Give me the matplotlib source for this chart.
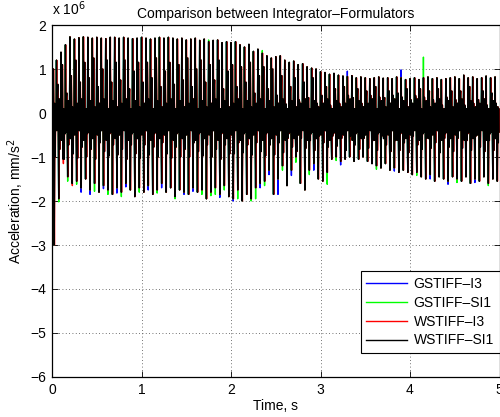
import numpy as np
import matplotlib
matplotlib.use("Agg")
import matplotlib.pyplot as plt
from matplotlib.lines import Line2D

plt.rcParams['font.family'] = ['Liberation Sans', 'DejaVu Sans']

# ---------------- data (units of 1e6 mm/s^2) ----------------
series_names = ["GSTIFF\u2013I3", "GSTIFF\u2013SI1", "WSTIFF\u2013I3", "WSTIFF\u2013SI1"]
series_colors = ["#0000ff", "#00ff00", "#ff0000", "#000000"]

cycle_period = 0.05  # s, one oscillation cycle

# upper peak of each cycle (100 cycles, 0 - 5 s)
upper_peaks = [
    1.36, 1.20, 1.38, 1.55, 1.73, 1.68, 1.71, 1.73, 1.72, 1.70,
    1.72, 1.70, 1.69, 1.72, 1.72, 1.70, 1.72, 1.70, 1.69, 1.70,
    1.72, 1.70, 1.68, 1.70, 1.72, 1.70, 1.72, 1.70, 1.68, 1.70,
    1.66, 1.68, 1.70, 1.65, 1.68, 1.62, 1.65, 1.66, 1.60, 1.62,
    1.60, 1.62, 1.55, 1.50, 1.56, 1.40, 1.45, 1.36, 1.30, 1.25,
    1.28, 1.30, 1.20, 1.15, 1.18, 1.10, 1.12, 1.05, 1.02, 1.00,
    0.94, 0.92, 0.88, 0.90, 0.86, 0.84, 0.83, 0.85, 0.80, 0.82,
    0.80, 0.78, 0.80, 0.82, 0.79, 0.80, 0.78, 0.82, 0.80, 0.76,
    0.78, 0.80, 0.76, 0.80, 0.82, 0.78, 0.80, 0.76, 0.78, 0.80,
    0.82, 0.78, 0.86, 0.80, 0.82, 0.78, 0.80, 0.84, 0.80, 0.82,
]

# lower peak of each cycle
lower_peaks = [
    -3.00, -1.95, -1.05, -1.45, -1.60, -1.55, -1.70, -1.50, -1.75, -1.60,
    -1.80, -1.65, -1.75, -1.85, -1.70, -1.80, -1.60, -1.75, -1.90, -1.70,
    -1.80, -1.65, -1.85, -1.75, -1.60, -1.80, -1.70, -1.90, -1.75, -1.80,
    -1.85, -1.70, -1.80, -1.75, -1.95, -1.80, -1.70, -1.85, -1.65, -1.90,
    -1.95, -1.75, -2.00, -1.85, -1.95, -1.70, -1.60, -1.55, -1.30, -1.85,
    -1.50, -1.20, -1.65, -1.30, -1.00, -1.60, -1.75, -1.30, -1.15, -1.50,
    -1.55, -1.35, -1.05, -1.00, -1.10, -1.05, -1.00, -1.10, -1.05, -1.00,
    -1.10, -1.15, -1.20, -1.25, -1.15, -1.30, -1.25, -1.35, -1.30, -1.35,
    -1.40, -1.35, -1.45, -1.50, -1.40, -1.55, -1.45, -1.50, -1.55, -1.45,
    -1.50, -1.55, -1.45, -1.60, -1.50, -1.55, -1.45, -1.60, -1.50, -1.55,
]

# secondary (smaller) spikes, one value per 0.25 s block
mid_upper_blocks = [1.00, 1.15, 1.15, 1.10, 1.15, 1.10, 1.15, 1.10, 1.05, 1.00,
                    0.75, 0.70, 0.55, 0.50, 0.50, 0.45, 0.50, 0.45, 0.50, 0.45]
mid_lower_blocks = [-1.00, -1.00, -0.95, -1.00, -0.95, -1.00, -0.95, -1.00, -0.90, -0.95,
                    -0.85, -0.80, -0.75, -0.80, -0.80, -0.85, -0.80, -0.85, -0.80, -0.85]
# cycle-to-cycle irregularity of the secondary spikes
mid_jitter = [0.0, -0.35, 0.10, -0.55, -0.15, 0.05, -0.45]

# ringing levels between the spikes within one cycle
ring_levels = [-0.50, 0.30, -0.40, 0.22, 0.18, -0.35]
# cycle-to-cycle irregularity of the ringing
ring_jitter = [0.0, 0.10, -0.12, 0.06, -0.08]

# where the other integrators differ from WSTIFF-SI1 (cycle index: value)
gstiff_i3_upper = {0: -5.50, 78: 0.98, 66: 0.95}
gstiff_i3_lower = {6: -1.80, 8: -1.85, 11: -1.72, 14: -1.82, 16: -1.68,
                   21: -1.75, 24: -1.70, 29: -1.85, 31: -1.78, 37: -1.92, 40: -2.0,
                   46: -1.70, 48: -1.40, 50: -1.85, 53: -1.42, 58: -1.30, 64: -1.18,
                   76: -1.32, 84: -1.50, 88: -1.62, 94: -1.58}
gstiff_si1_upper = {0: -5.45, 83: 1.27, 35: 1.66, 47: 1.42}
gstiff_si1_lower = {1: -2.02, 3: -1.55, 5: -1.62, 9: -1.78, 12: -1.85,
                    15: -1.90, 19: -1.80, 23: -1.82, 27: -1.95, 33: -1.85, 35: -1.88,
                    36: -1.85, 38: -1.75, 41: -1.95, 44: -2.00, 45: -1.95, 47: -1.65,
                    51: -1.30, 54: -1.12, 57: -1.40, 60: -1.55, 61: -1.62, 63: -1.08,
                    72: -1.28, 81: -1.42, 90: -1.58, 97: -1.65}
wstiff_i3_upper = {}
wstiff_i3_lower = {2: -1.15, 4: -1.65}
overrides = [(gstiff_i3_upper, gstiff_i3_lower),
             (gstiff_si1_upper, gstiff_si1_lower),
             (wstiff_i3_upper, wstiff_i3_lower),
             ({}, {})]


def build_series(up_over, lo_over):
    vals = []
    for k in range(len(upper_peaks)):
        u = up_over.get(k, upper_peaks[k])
        lo = lo_over.get(k, lower_peaks[k])
        j = mid_jitter[k % len(mid_jitter)]
        m = mid_upper_blocks[k // 5] + j
        n = mid_lower_blocks[k // 5] - 0.5 * j
        rj = ring_jitter[k % len(ring_jitter)]
        r = [v + rj for v in ring_levels]
        vals += [u, r[0], r[1], m, r[2], lo, r[3], n, r[4], r[5]]
    vals = np.array(vals)
    t = np.arange(len(vals)) * (cycle_period / 10)
    return t, vals


# ---------------- figure ----------------
fig = plt.figure(figsize=(5.0, 4.17), dpi=100)
ax = fig.add_axes([52 / 500, 40 / 417, 447.5 / 500, 352 / 417])

shifts = [0.0, 0.0, 0.0025, 0.0]
for (uo, lo), col, name, sh in zip(overrides, series_colors, series_names, shifts):
    t, v = build_series(uo, lo)
    ax.plot(t + sh, v, color=col, lw=1.0, label=name)

ax.set_xlim(0, 5)
ax.set_ylim(-6, 2)
ax.set_xticks([0, 1, 2, 3, 4, 5])
ax.set_yticks([-6, -5, -4, -3, -2, -1, 0, 1, 2])
ax.set_yticklabels(['\u22126', '\u22125', '\u22124', '\u22123', '\u22122', '\u22121', '0', '1', '2'])
ax.tick_params(direction='in', top=True, right=True, length=4, width=0.6,
               labelsize=10, pad=4, colors='black')
ax.grid(True, linestyle=(0, (1, 3)), color='#444444', lw=0.6)
for s in ax.spines.values():
    s.set_linewidth(0.9)

ax.set_title("Comparison between Integrator\u2013Formulators", fontsize=10, pad=5)
ax.set_xlabel("Time, s", fontsize=10, labelpad=2)
ax.set_ylabel("Acceleration, mm/s$^2$", fontsize=10, labelpad=3)
ax.text(0.0, 1.02, r"x 10$^{6}$", transform=ax.transAxes, fontsize=10,
        ha='left', va='bottom')

handles = [Line2D([0], [0], color=c, lw=1.0) for c in series_colors]
leg = ax.legend(handles, series_names, loc='lower right',
                bbox_to_anchor=(1.0, 24 / 352), borderaxespad=0.0,
                fancybox=False, edgecolor='black', framealpha=1.0,
                fontsize=10, handlelength=2.95, labelspacing=0.35,
                borderpad=0.4, handletextpad=0.45)
leg.get_frame().set_linewidth(0.8)

fig.savefig("out.png", dpi=100)
